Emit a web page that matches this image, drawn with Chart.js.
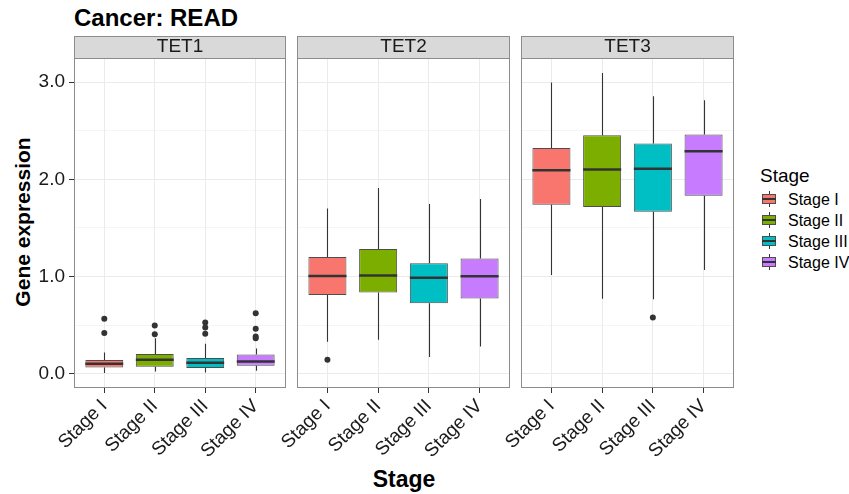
<!DOCTYPE html>
<html><head><meta charset="utf-8">
<script src="https://cdn.jsdelivr.net/npm/chart.js@4.4.1/dist/chart.umd.min.js"></script>
<style>
html,body{margin:0;padding:0;background:#fff;}
body{width:849px;height:494px;position:relative;overflow:hidden;font-family:'Liberation Sans',Arial,sans-serif;}
canvas{position:absolute;}
.t{position:absolute;white-space:nowrap;color:#000;}
</style></head><body>
<div class="t" style="left:74px;top:6px;font-size:24px;font-weight:bold;line-height:24px;">Cancer: READ</div>
<div class="t" style="left:23px;top:222px;font-size:21px;font-weight:bold;line-height:24px;transform:translate(-50%,-50%) rotate(-90deg);">Gene expression</div>
<div class="t" style="left:404px;top:479px;font-size:23px;font-weight:bold;line-height:24px;transform:translate(-50%,-50%);">Stage</div>
<div class="t" style="left:760px;top:165.5px;font-size:19px;line-height:19px;color:#000;">Stage</div>
<div id="legend"></div>
<canvas id="p0" width="290" height="422" style="left:0px;top:36px"></canvas>
<canvas id="p1" width="257" height="422" style="left:257px;top:36px"></canvas>
<canvas id="p2" width="257" height="422" style="left:481px;top:36px"></canvas>
<script>
const stages = ['Stage I','Stage II','Stage III','Stage IV'];
const genes = ['TET1','TET2','TET3'];
const stageColors = ['#F8766D','#7CAE00','#00BFC4','#C77CFF'];
const yTickValues = [0,0.5,1,1.5,2,2.5,3];

const tet1Low = [0.007,0.024,0.013,0.031];
const tet1Q1 = [0.065,0.072,0.058,0.082];
const tet1Median = [0.103,0.144,0.113,0.126];
const tet1Q3 = [0.140,0.202,0.161,0.198];
const tet1High = [0.219,0.366,0.308,0.260];
const tet1Outliers = [[0.565,0.418],[0.496,0.407],[0.527,0.475,0.410],[0.623,0.462,0.383,0.366]];

const tet2Low = [0.330,0.349,0.171,0.280];
const tet2Q1 = [0.810,0.835,0.726,0.773];
const tet2Median = [1.006,1.010,0.986,1.003];
const tet2Q3 = [1.200,1.283,1.136,1.184];
const tet2High = [1.700,1.910,1.745,1.797];
const tet2Outliers = [[0.144],[],[],[]];

const tet3Low = [1.016,0.770,0.767,1.068];
const tet3Q1 = [1.739,1.715,1.667,1.831];
const tet3Median = [2.094,2.101,2.108,2.289];
const tet3Q3 = [2.323,2.454,2.368,2.461];
const tet3High = [2.995,3.094,2.854,2.813];
const tet3Outliers = [[],[],[0.578],[]];

const geneStats = [
  {low:tet1Low,q1:tet1Q1,med:tet1Median,q3:tet1Q3,high:tet1High,out:tet1Outliers},
  {low:tet2Low,q1:tet2Q1,med:tet2Median,q3:tet2Q3,high:tet2High,out:tet2Outliers},
  {low:tet3Low,q1:tet3Q1,med:tet3Median,q3:tet3Q3,high:tet3High,out:tet3Outliers}
];

Chart.defaults.font.family = "'Liberation Sans', Arial, sans-serif";

function boxPlugin(st){
  return {
    id:'boxpanel',
    beforeDraw(chart){
      const {ctx, chartArea:a} = chart;
      ctx.save();
      ctx.fillStyle = '#D9D9D9';
      ctx.fillRect(a.left, a.top-22, a.right-a.left, 22);
      ctx.strokeStyle = '#8C8C8C'; ctx.lineWidth = 1;
      ctx.strokeRect(Math.round(a.left)+0.5, Math.round(a.top-22)+0.5, Math.round(a.right-a.left)-1, 22);
      ctx.restore();
    },
    afterDatasetsDraw(chart){
      const {ctx} = chart;
      const xs = chart.scales.x, ys = chart.scales.y;
      const meta = chart.getDatasetMeta(0);
      ctx.save();
      st.low.forEach((_,i)=>{
        const el = meta.data[i];
        const x = Math.round(xs.getPixelForValue(i+1))+0.5;
        ctx.strokeStyle = '#333'; ctx.lineWidth = 1.1;
        ctx.beginPath();
        ctx.moveTo(x, ys.getPixelForValue(st.high[i])); ctx.lineTo(x, ys.getPixelForValue(st.q3[i]));
        ctx.moveTo(x, ys.getPixelForValue(st.q1[i])); ctx.lineTo(x, ys.getPixelForValue(st.low[i]));
        ctx.stroke();
        ctx.lineWidth = 2.5;
        ctx.beginPath();
        const ym = ys.getPixelForValue(st.med[i]);
        ctx.moveTo(el.x - el.width/2, ym); ctx.lineTo(el.x + el.width/2, ym);
        ctx.stroke();
      });
      ctx.restore();
    },
    afterDraw(chart){
      const {ctx, chartArea:a} = chart;
      ctx.save();
      ctx.strokeStyle = '#8C8C8C'; ctx.lineWidth = 1;
      ctx.strokeRect(Math.round(a.left)+0.5, Math.round(a.top)+0.5, Math.round(a.right-a.left)-1, Math.round(a.bottom-a.top)-1);
      ctx.restore();
    }
  };
}

function makePanel(id, g, showY, padL){
  const st = geneStats[g];
  const outPts = [];
  st.out.forEach((arr,i)=>arr.forEach(v=>outPts.push({x:i+1, y:v})));
  new Chart(document.getElementById(id), {
    type:'bar',
    data:{datasets:[
      {type:'bar', data: stages.map((s,i)=>({x:i+1, y:[st.q1[i], st.q3[i]]})),
       backgroundColor: stageColors, borderColor:'#4D4D4D', borderWidth:1, borderSkipped:false,
       grouped:false, barPercentage:0.75, categoryPercentage:1, order:2},
      {type:'scatter', data: outPts, pointRadius:3, pointBackgroundColor:'#333', pointBorderWidth:0, order:1}
    ]},
    options:{
      responsive:false, animation:false, events:[],
      layout:{padding:{left:padL, right:0, top:0, bottom:0}},
      plugins:{
        legend:{display:false}, tooltip:{enabled:false},
        title:{display:true, text:genes[g], fullSize:false, color:'#1A1A1A',
          font:{size:19, weight:'normal', lineHeight:22/19}, padding:{top:0, bottom:0}}
      },
      scales:{
        x:{type:'linear', min:0.4, max:4.6, offset:false,
          afterBuildTicks:s=>{ s.ticks = stages.map((_,i)=>({value:i+1})); },
          afterFit:s=>{ s.height = 70; },
          ticks:{autoSkip:false, minRotation:45, maxRotation:45, padding:2, color:'#1A1A1A',
            font:{size:19}, callback:v=>stages[v-1]},
          grid:{color:'#EBEBEB', lineWidth:1, tickColor:'#333', tickLength:5, offset:false},
          border:{display:false}},
        y:{type:'linear', min:-0.147, max:3.248,
          afterBuildTicks:s=>{ s.ticks = yTickValues.map(v=>({value:v})); },
          afterFit:s=>{ s.width = showY ? 74 : 0; },
          ticks:{display:showY, padding:4, color:'#1A1A1A', font:{size:19},
            callback:v=>Number.isInteger(v) ? v.toFixed(1) : ''},
          grid:{color:'#EBEBEB', drawTicks:showY, tickLength:5,
            lineWidth:c=>(c.tick && Number.isInteger(c.tick.value)) ? 1 : 0.5,
            tickColor:c=>(c.tick && Number.isInteger(c.tick.value)) ? '#333' : 'rgba(0,0,0,0)'},
          border:{display:false}}
      }
    },
    plugins:[boxPlugin(st)]
  });
}

makePanel('p0', 0, true, 0);
makePanel('p1', 1, false, 40);
makePanel('p2', 2, false, 40);

const legend = document.getElementById('legend');
stages.forEach((s,i)=>{
  const cy = 199 + i*21;
  const k = document.createElement('div');
  k.style.cssText = `position:absolute;left:762px;top:${cy-8}px;width:14px;height:16px;`;
  k.innerHTML = `<div style="position:absolute;left:7px;top:0;width:1px;height:16px;background:#333"></div>`+
    `<div style="position:absolute;left:0;top:3px;width:12px;height:8px;border:1px solid #4D4D4D;background:${stageColors[i]}"></div>`+
    `<div style="position:absolute;left:0;top:7px;width:14px;height:2px;background:#333"></div>`;
  legend.appendChild(k);
  const t = document.createElement('div');
  t.className = 't';
  t.style.cssText = `left:788px;top:${cy-8.5}px;font-size:16px;line-height:17px;`;
  t.textContent = s;
  legend.appendChild(t);
});
</script>
</body></html>
